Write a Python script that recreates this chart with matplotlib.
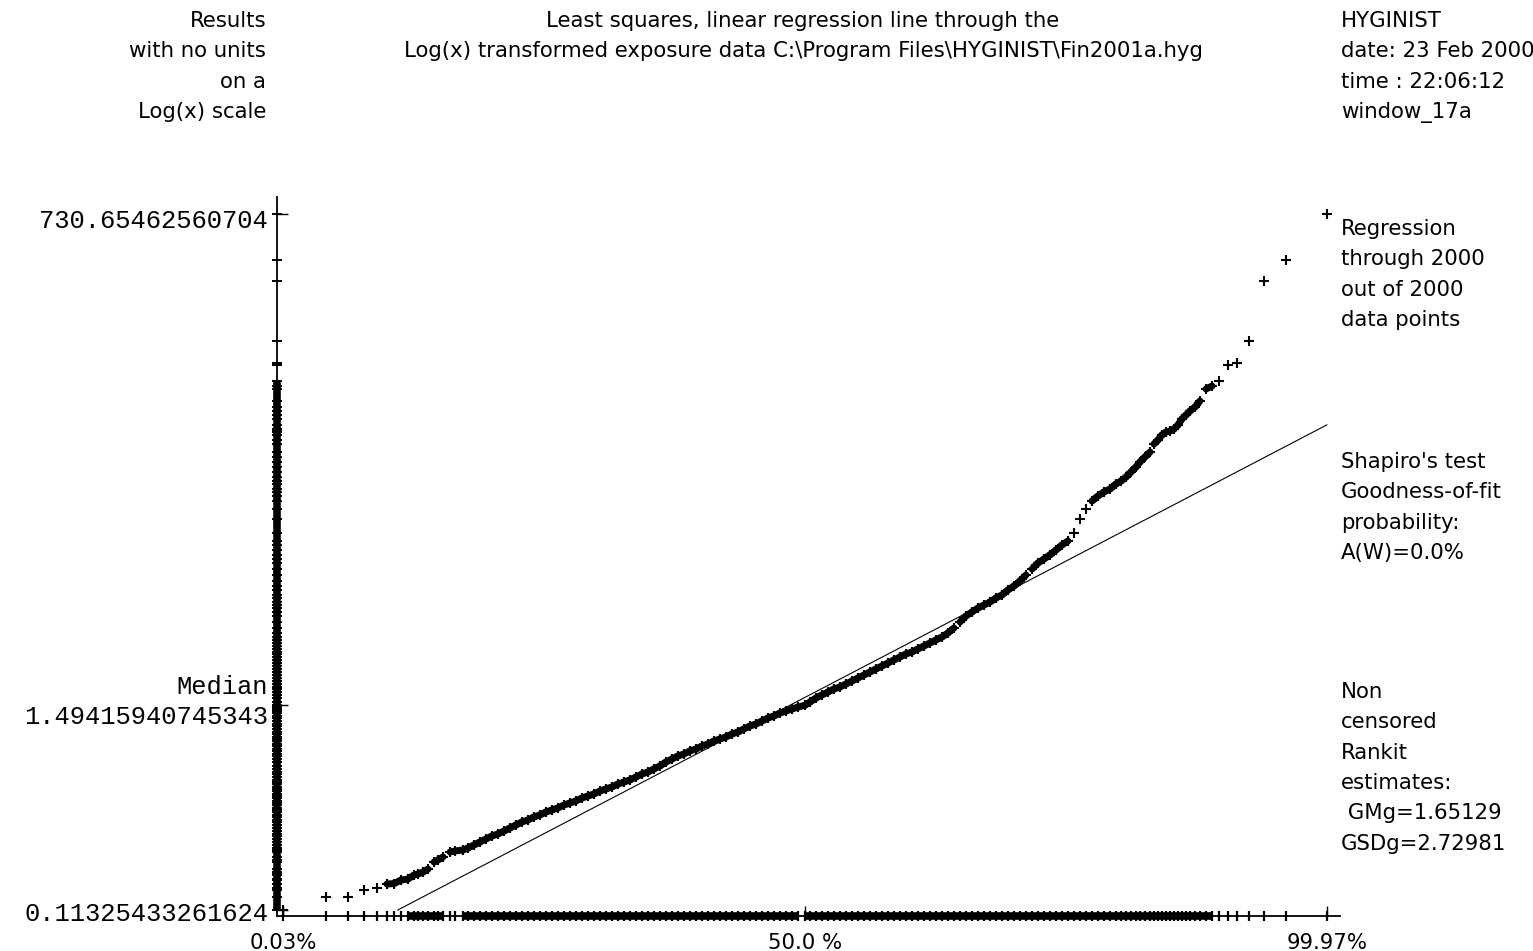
import numpy as np
import matplotlib
matplotlib.use("Agg")
import matplotlib.pyplot as plt
from matplotlib.collections import LineCollection

# normal scores (rankits) of the plotted points and the results
rankit = [
    -3.42, -3.139, -2.995, -2.890, -2.805, -2.739, -2.693, -2.647, -2.602, -2.562,
    -2.536, -2.503, -2.470, -2.431, -2.405, -2.372, -2.326, -2.294, -2.241, -2.208,
    -2.169, -2.130, -2.090, -2.051, -2.012, -1.972, -1.933, -1.894, -1.855, -1.815,
    -1.776, -1.737, -1.697, -1.658, -1.619, -1.579, -1.540, -1.501, -1.461, -1.422,
    -1.383, -1.343, -1.304, -1.265, -1.225, -1.186, -1.147, -1.107, -1.068, -1.029,
    -0.990, -0.950, -0.911, -0.872, -0.832, -0.793, -0.754, -0.714, -0.675, -0.636,
    -0.596, -0.557, -0.518, -0.478, -0.439, -0.400, -0.360, -0.321, -0.282, -0.242,
    -0.203, -0.164, -0.125, -0.085, -0.046, 0.000, 0.033, 0.072, 0.111, 0.151,
    0.190, 0.229, 0.269, 0.308, 0.347, 0.387, 0.426, 0.465, 0.505, 0.544,
    0.583, 0.623, 0.662, 0.701, 0.740, 0.780, 0.819, 0.858, 0.898, 0.937,
    0.976, 1.016, 1.055, 1.094, 1.134, 1.173, 1.212, 1.252, 1.291, 1.330,
    1.370, 1.409, 1.448, 1.488, 1.527, 1.566, 1.605, 1.645, 1.684, 1.723,
    1.763, 1.802, 1.841, 1.881, 1.920, 1.959, 1.999,
    2.038, 2.071, 2.104, 2.136, 2.169, 2.195, 2.228, 2.261, 2.287, 2.313,
    2.339, 2.366, 2.392, 2.418, 2.444, 2.470, 2.497, 2.523, 2.556, 2.588,
    2.628, 2.667, 2.713, 2.772, 2.831, 2.910, 3.008, 3.152, 3.42,
]
result = [
    0.11325, 0.1334, 0.1336, 0.1457, 0.1495, 0.1572, 0.1580, 0.1652, 0.1673, 0.1759,
    0.1782, 0.1827, 0.1898, 0.2072, 0.2127, 0.2209, 0.2352, 0.2382, 0.2412, 0.2474,
    0.2569, 0.2668, 0.2772, 0.2879, 0.2952, 0.3065, 0.3184, 0.3306, 0.3434, 0.3522,
    0.3658, 0.3751, 0.3895, 0.3995, 0.4097, 0.4255, 0.4363, 0.4474, 0.4647, 0.4765,
    0.4887, 0.5075, 0.5204, 0.5337, 0.5543, 0.5684, 0.5831, 0.6055, 0.6289, 0.6449,
    0.6698, 0.6956, 0.7315, 0.7596, 0.7889, 0.8090, 0.8401, 0.8616, 0.8948, 0.9176,
    0.9529, 0.9775, 1.0024, 1.0410, 1.0675, 1.1086, 1.1514, 1.1807, 1.2262, 1.2736,
    1.3061, 1.3564, 1.3909, 1.4264, 1.4628, 1.4942, 1.558, 1.638, 1.702, 1.767,
    1.835, 1.882, 1.955, 2.030, 2.108, 2.190, 2.274, 2.362, 2.453, 2.547,
    2.646, 2.748, 2.854, 2.927, 3.039, 3.156, 3.278, 3.404, 3.535, 3.718,
    3.960, 4.270, 4.605, 4.843, 5.094, 5.290, 5.493, 5.779, 6.001, 6.391,
    6.722, 7.159, 7.722, 8.329, 8.983, 9.447, 9.935, 10.58, 11.27, 11.85,
    13.11, 15.64, 17.73, 19.61, 20.90, 21.98, 22.82,
    24.31, 25.24, 26.55, 28.28, 30.12, 32.08, 34.17, 36.39, 40.25, 42.33,
    45.08, 46.82, 47.41, 48.62, 51.14, 55.16, 58.01, 61.01, 64.16, 69.20,
    80.49, 83.60, 89.03, 108.9, 111.7, 147.4, 313.9, 409.1, 730.65,
]
assert len(rankit) == len(result)

gm = 1.65129
gsd = 2.72981

y_ticks = [0.11325433261624, 1.49415940745343, 730.65462560704]
x_ticks = [-3.42, 0.0, 3.42]
x_ticklabels = ["0.03%", "50.0 %", "99.97%"]

header_left = ["Results", "with no units", "on a", "Log(x) scale"]
title_lines = ["Least squares, linear regression line through the",
               "Log(x) transformed exposure data C:\\Program Files\\HYGINIST\\Fin2001a.hyg"]
header_right = ["HYGINIST", "date: 23 Feb 2000", "time : 22:06:12", "window_17a"]
notes = [
    (229, ["Regression", "through 2000", "out of 2000", "data points"]),
    (462, ["Shapiro's test", "Goodness-of-fit", "probability:", "A(W)=0.0%"]),
    (692, ["Non", "censored", "Rankit", "estimates:", " GMg=1.65129", "GSDg=2.72981"]),
]

W, H = 1533, 951
SANS = ["DejaVu Sans"]
MONO = ["Liberation Mono", "DejaVu Sans Mono"]
FS = 15.3
FS_MONO = 18.4

fig = plt.figure(figsize=(W / 100, H / 100), dpi=100)
fig.patch.set_facecolor("white")

# axes box in pixels: left 277, right 1340, top 197, bottom 916
ax = fig.add_axes([277 / W, (H - 916) / H, (1340 - 277) / W, (916 - 197) / H])
ax.set_yscale("log")
ax.set_xlim(-3.46, 3.506)
ax.set_ylim(0.105, 905)
for s in ["top", "right"]:
    ax.spines[s].set_visible(False)
for s in ["left", "bottom"]:
    ax.spines[s].set_linewidth(1.3)
ax.minorticks_off()

xlo, xhi = ax.get_xlim()
ylo, yhi = ax.get_ylim()

rk = np.array(rankit)
res = np.array(result)
pix = ax.transData.transform(np.column_stack([rk, res]))


def runs(p, gap):
    # index runs of sorted positions whose neighbours lie within `gap` pixels
    order = np.argsort(p)
    out, start = [], 0
    for i in range(1, len(order) + 1):
        if i == len(order) or p[order[i]] - p[order[i - 1]] > gap:
            if i - start >= 3:
                out.append((order[start], order[i - 1]))
            start = i
    return out


# rugs on both axes: single ticks, merged into a bar where they crowd together
ax.plot(np.full(len(res), xlo), res, ls="none", marker="_", ms=6.5, mew=1.4,
        color="black", clip_on=False, zorder=4)
ax.plot(rk, np.full(len(rk), ylo), ls="none", marker="|", ms=7, mew=1.6,
        color="black", clip_on=False, zorder=4)
for a, b in runs(pix[:, 1], 15):
    ax.plot([xlo, xlo], [res[a], res[b]], color="black", lw=5.5,
            solid_capstyle="butt", clip_on=False, zorder=4)
for a, b in runs(pix[:, 0], 6.2):
    ax.plot([rk[a], rk[b]], [ylo, ylo], color="black", lw=5.5,
            solid_capstyle="butt", clip_on=False, zorder=4)

# data points; where they crowd they merge into a thick band
ax.plot(rk, res, ls="none", marker="+", ms=7, mew=1.5, color="black", zorder=3)
segs = []
for i in range(len(rk) - 1):
    if np.hypot(*(pix[i + 1] - pix[i])) <= 8.5:
        segs.append([(rk[i], res[i]), (rk[i + 1], res[i + 1])])
ax.add_collection(LineCollection(segs, colors="black", linewidths=5.0,
                                 capstyle="round", zorder=3))

# regression line from GM and GSD
z0 = (np.log10(y_ticks[0]) - np.log10(gm)) / np.log10(gsd)
zl = np.array([z0, rankit[-1]])
ax.plot(zl, gm * gsd ** zl, color="black", lw=0.8, zorder=2)

ax.set_yticks(y_ticks)
ax.set_yticklabels([])
ax.set_xticks(x_ticks)
ax.set_xticklabels(x_ticklabels, fontfamily=SANS, fontsize=FS)
ax.tick_params(axis="y", direction="in", length=8, width=1)
ax.tick_params(axis="x", direction="in", length=7, width=1, pad=12)

# y labels, placed against their ticks
y_labels = [
    (y_ticks[0], "0.11325433261624", -4),
    (y_ticks[1], "Median", 18),
    (y_ticks[1], "1.49415940745343", -12),
    (y_ticks[2], "730.65462560704", -7),
]
for v, s, dy in y_labels:
    ax.annotate(s, xy=(0, v), xycoords=("axes fraction", "data"),
                xytext=(-9, dy), textcoords="offset pixels",
                ha="right", va="center", fontfamily=MONO, fontsize=FS_MONO)


def px_text(x, y, s, **kw):
    fig.text(x / W, 1 - y / H, s, va="center", fontfamily=SANS, fontsize=FS, **kw)


for i, s in enumerate(header_left):
    px_text(266, 21 + 30.4 * i, s, ha="right")
for i, s in enumerate(title_lines):
    px_text(803, 21 + 30.4 * i, s, ha="center")
for i, s in enumerate(header_right):
    px_text(1341, 21 + 30.4 * i, s, ha="left")
for y0, lines in notes:
    for i, s in enumerate(lines):
        px_text(1341, y0 + 30.3 * i, s, ha="left")

fig.savefig("out.png", dpi=100, facecolor="white")
